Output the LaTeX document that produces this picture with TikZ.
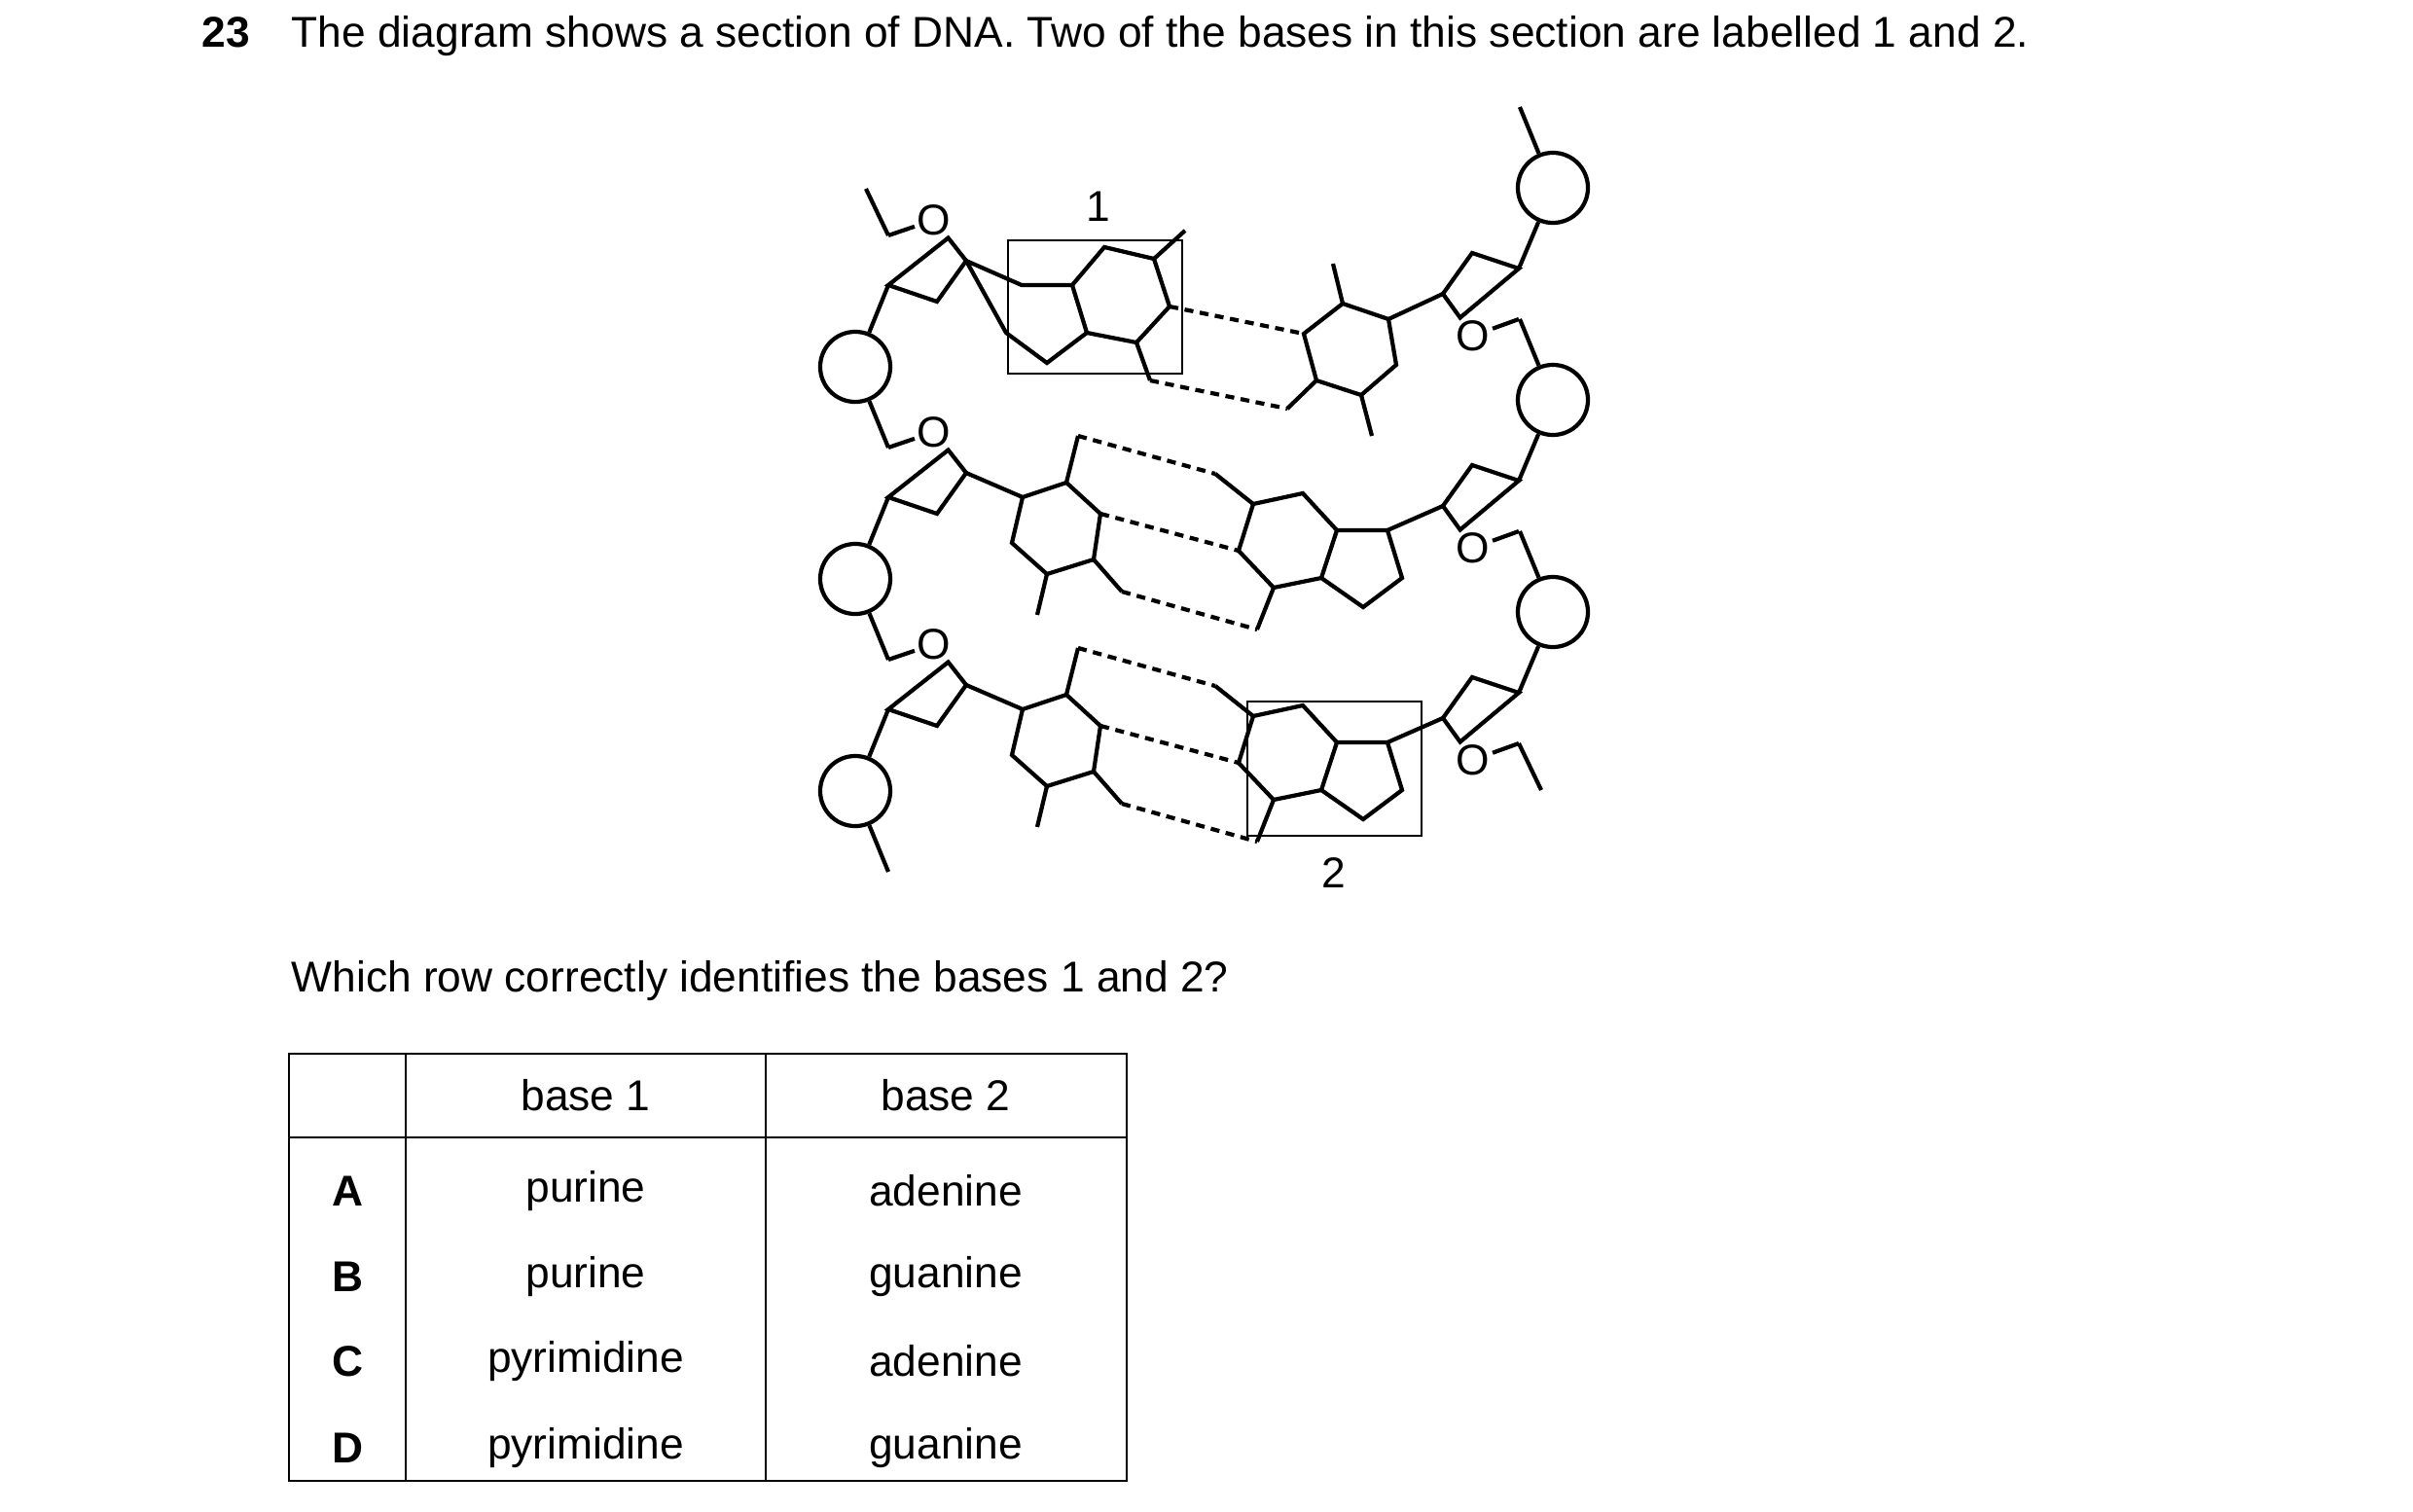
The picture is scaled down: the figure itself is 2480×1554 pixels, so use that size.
\documentclass[tikz,border=0pt]{standalone}
\usepackage{fontspec}
\setmainfont{Liberation Sans}
\begin{document}
\begin{tikzpicture}[x=0.01cm,y=-0.01cm,
    bond/.style={line width=1.2pt,line join=miter},
    hbond/.style={line width=1.2pt,dash pattern=on 2.6pt off 1.9pt},
    phos/.style={circle,draw,line width=1.2pt,minimum size=0.72cm,inner sep=0pt},
    oatom/.style={inner sep=0.6pt,font=\fontsize{12.6}{14}\selectfont},
    frame/.style={draw,line width=0.6pt},
    txt/.style={font=\fontsize{12.6}{15}\selectfont,inner sep=0pt},
]
\useasboundingbox (0,0) rectangle (2480,1554);

% heading and question
\node[txt,anchor=base west] (num) at (207,48) {\textbf{23}};
\node[txt,anchor=base west] (head) at (299,48) {The diagram shows a section of DNA. Two of the bases in this section are labelled 1 and 2.};
\node[txt,anchor=base west] (quest) at (299,1019) {Which row correctly identifies the bases 1 and 2?};

% left strand
\foreach \r/\dy in {1/0,2/218,3/436}{
  \begin{scope}[shift={(0,\dy)}]
    \node[oatom] (ol\r) at (960,226) {O};
    \node[phos] (pl\r) at (879,377) {};
    \coordinate (c4l\r) at (913,242);
    \coordinate (c1l\r) at (993,268);
    \coordinate (c3l\r) at (913,293);
    \coordinate (nxl\r) at (913,460);
    \draw[bond] (c4l\r) -- (ol\r) -- (c1l\r) -- (963,310) -- (c3l\r) -- cycle;
    \draw[bond] (c3l\r) -- (pl\r) -- (nxl\r);
  \end{scope}
}
\draw[bond] (890,194) -- (c4l1);

% right strand
\foreach \r/\dy in {1/0,2/218,3/436}{
  \begin{scope}[shift={(0,\dy)}]
    \node[oatom] (or\r) at (1514,345) {O};
    \node[phos] (pr\r) at (1596,193) {};
    \coordinate (c4r\r) at (1561,328);
    \coordinate (c1r\r) at (1483,302);
    \coordinate (c3r\r) at (1561,276);
    \coordinate (pvr\r) at (1562,110);
    \draw[bond] (c4r\r) -- (or\r) -- (c1r\r) -- (1513,260) -- (c3r\r) -- cycle;
    \draw[bond] (c3r\r) -- (pr\r) -- (pvr\r);
  \end{scope}
}
\draw[bond] (c4r3) -- (1584,812);

% row 1: purine (left) paired with pyrimidine (right)
\draw[bond] (c1l1) -- (1050,293) -- (1102,293) -- (1117,342) -- (1076,373) -- (1034,342) -- cycle;
\draw[bond] (1102,293) -- (1135,254) -- (1186,266) -- (1202,315) -- (1168,352) -- (1117,342);
\draw[bond] (1186,266) -- (1218,237);
\draw[bond] (1168,352) -- (1182,391);
\draw[hbond] (1202,315) -- (1340,343);
\draw[hbond] (1182,391) -- (1323,420);
\draw[bond] (1340,343) -- (1380,312) -- (1427,328) -- (1435,375) -- (1399,406) -- (1353,391) -- cycle;
\draw[bond] (1380,312) -- (1370,271);
\draw[bond] (1399,406) -- (1410,448);
\draw[bond] (1353,391) -- (1323,420);
\draw[bond] (1427,328) -- (c1r1);
\draw[frame] (1036,247) rectangle (1215,384);
\node[txt] (lab1) at (1129,212) {1};

% rows 2 and 3: pyrimidine (left) paired with purine (right)
\foreach \r/\dy in {2/0,3/218}{
  \begin{scope}[shift={(0,\dy)}]
    \draw[bond] (c1l\r) -- (1051,511) -- (1096,496) -- (1131,528) -- (1124,575) -- (1076,590) -- (1040,558) -- (1051,511);
    \draw[bond] (1096,496) -- (1108,448);
    \draw[bond] (1076,590) -- (1066,632);
    \draw[bond] (1124,575) -- (1153,608);
    \draw[hbond] (1108,448) -- (1249,487);
    \draw[hbond] (1131,528) -- (1273,566);
    \draw[hbond] (1153,608) -- (1292,647);
    \draw[bond] (1249,487) -- (1288,518);
    \draw[bond] (1288,518) -- (1339,507) -- (1374,545) -- (1358,594) -- (1309,604) -- (1273,566) -- cycle;
    \draw[bond] (1374,545) -- (1426,545) -- (1441,594) -- (1401,624) -- (1358,594);
    \draw[bond] (1309,604) -- (1292,647);
    \draw[bond] (1426,545) -- (c1r\r);
  \end{scope}
}
\draw[frame] (1282,721) rectangle (1461,859);
\node[txt] (lab2) at (1371,897) {2};

% table
\draw[frame] (297,1083) rectangle (1158,1522);
\draw[frame] (417,1083) -- (417,1522);
\draw[frame] (787,1083) -- (787,1522);
\draw[frame] (297,1169) -- (1158,1169);
\node[txt] (h1) at (602,1126) {base 1};
\node[txt] (h2) at (972,1126) {base 2};
\foreach \k/\y/\a/\b in {A/1224/purine/adenine,B/1312/purine/guanine,C/1399/pyrimidine/adenine,D/1488/pyrimidine/guanine}{
  \node[txt] (row\k) at (357,\y) {\textbf{\k}};
  \node[txt] (b1\k) at (602,\y) {\a};
  \node[txt] (b2\k) at (972,\y) {\b};
}
\end{tikzpicture}
\end{document}
